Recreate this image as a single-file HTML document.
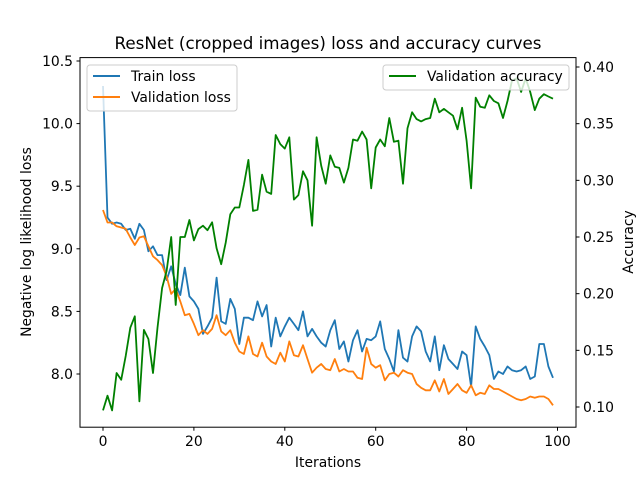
<!DOCTYPE html>
<html><head><meta charset="utf-8"><style>
body{margin:0;background:#fff}
svg{display:block;font-family:"DejaVu Sans","Liberation Sans",sans-serif}
</style></head><body>
<svg id="chart" width="640" height="480" xmlns="http://www.w3.org/2000/svg">
<rect x="0" y="0" width="640" height="480" fill="#fff"/>
<text x="328" y="49" text-anchor="middle" font-size="16.7">ResNet (cropped images) loss and accuracy curves</text>
<g id="marks"></g>
<rect x="80" y="57.6" width="496" height="369.6" fill="none" stroke="#000" stroke-width="1"/>
<g id="axes"></g>
<text x="328" y="467" text-anchor="middle" font-size="13.9">Iterations</text>
<text transform="translate(31,242) rotate(-90)" text-anchor="middle" font-size="13.9">Negative log likelihood loss</text>
<text transform="translate(633,242) rotate(-90)" text-anchor="middle" font-size="13.9">Accuracy</text>
<g>
<rect x="87" y="65" width="150" height="46" rx="3" fill="#fff" fill-opacity="0.8" stroke="#ccc"/>
<line x1="93" y1="76" x2="120" y2="76" stroke="#1f77b4" stroke-width="2"/>
<text x="131" y="81" font-size="13.9">Train loss</text>
<line x1="93" y1="97" x2="120" y2="97" stroke="#ff7f0e" stroke-width="2"/>
<text x="131" y="102" font-size="13.9">Validation loss</text>
</g>
<g>
<rect x="383" y="65" width="186" height="25" rx="3" fill="#fff" fill-opacity="0.8" stroke="#ccc"/>
<line x1="389" y1="76" x2="416" y2="76" stroke="green" stroke-width="2"/>
<text x="427" y="81" font-size="13.9">Validation accuracy</text>
</g>
</svg>
<script>
const trainLoss=[10.3,9.25,9.2,9.21,9.2,9.15,9.16,9.08,9.2,9.15,8.98,9.02,8.95,8.95,8.75,8.86,8.72,8.63,8.85,8.62,8.58,8.52,8.32,8.38,8.45,8.77,8.42,8.4,8.6,8.52,8.24,8.45,8.45,8.43,8.58,8.46,8.55,8.22,8.45,8.3,8.38,8.45,8.4,8.35,8.5,8.3,8.36,8.3,8.25,8.22,8.35,8.43,8.2,8.26,8.1,8.27,8.35,8.18,8.28,8.27,8.3,8.42,8.2,8.12,8.02,8.35,8.13,8.1,8.3,8.38,8.34,8.18,8.1,8.3,8.03,8.23,8.12,8.08,8.04,8.18,8.15,7.9,8.38,8.28,8.22,8.15,7.96,8.02,8.0,8.06,8.03,8.02,8.03,8.06,7.96,7.98,8.24,8.24,8.06,7.97];
const valLoss=[9.31,9.21,9.21,9.18,9.17,9.16,9.09,9.03,9.09,9.1,9.02,8.94,8.91,8.87,8.78,8.64,8.68,8.58,8.47,8.48,8.4,8.31,8.35,8.32,8.36,8.47,8.34,8.31,8.35,8.25,8.18,8.16,8.3,8.16,8.14,8.25,8.14,8.1,8.08,8.17,8.1,8.26,8.15,8.14,8.23,8.12,8.01,8.05,8.08,8.04,8.03,8.12,8.02,8.04,8.02,8.02,7.97,7.96,8.21,8.08,8.05,8.07,7.95,8.0,8.01,7.98,8.03,8.01,8.0,7.92,7.89,7.87,7.87,7.95,7.86,7.96,7.84,7.88,7.92,7.87,7.85,7.91,7.83,7.85,7.84,7.91,7.88,7.88,7.86,7.84,7.82,7.8,7.79,7.8,7.82,7.81,7.82,7.82,7.8,7.75];
const valAcc=[0.097,0.11,0.097,0.13,0.124,0.145,0.17,0.18,0.105,0.168,0.16,0.13,0.17,0.205,0.22,0.25,0.19,0.25,0.25,0.265,0.247,0.257,0.26,0.256,0.263,0.24,0.226,0.245,0.27,0.276,0.276,0.296,0.318,0.273,0.274,0.305,0.29,0.288,0.34,0.332,0.328,0.338,0.283,0.287,0.308,0.3,0.26,0.338,0.313,0.297,0.322,0.312,0.311,0.298,0.311,0.336,0.335,0.343,0.336,0.293,0.329,0.336,0.33,0.355,0.334,0.335,0.297,0.346,0.36,0.354,0.352,0.354,0.355,0.372,0.36,0.363,0.36,0.357,0.345,0.364,0.335,0.293,0.373,0.365,0.364,0.375,0.37,0.368,0.355,0.37,0.388,0.39,0.378,0.39,0.378,0.362,0.372,0.376,0.374,0.372];
const xTicks=[0,20,40,60,80,100];
const leftTicks=["8.0","8.5","9.0","9.5","10.0","10.5"];
const rightTicks=["0.10","0.15","0.20","0.25","0.30","0.35","0.40"];
const NS="http://www.w3.org/2000/svg";
function xs(v){return 103+v*4.545;}
function yl(v){return 374-(v-8.0)*125.2;}
function yr(v){return 407-(v-0.10)*1133.3;}
const marks=document.getElementById('marks');
const axes=document.getElementById('axes');
function line(vals,fy,color,name){
  const p=document.createElementNS(NS,'polyline');
  p.setAttribute('points',vals.map((v,i)=>xs(i).toFixed(1)+','+fy(v).toFixed(1)).join(' '));
  p.setAttribute('fill','none');p.setAttribute('stroke',color);p.setAttribute('stroke-width','1.8');
  p.setAttribute('stroke-linejoin','round');
  
  
  marks.appendChild(p);
}
line(trainLoss,yl,'#1f77b4','train-loss-line');
line(valLoss,yl,'#ff7f0e','validation-loss-line');
line(valAcc,yr,'green','validation-accuracy-line');
function el(tag,attrs,text){const e=document.createElementNS(NS,tag);for(const k in attrs)e.setAttribute(k,attrs[k]);if(text!==undefined)e.textContent=text;axes.appendChild(e);return e;}
xTicks.forEach(t=>{
  const x=xs(t);
  const l=el('line',{x1:x,y1:427.2,x2:x,y2:430.7,stroke:'#000'});
  
  
  const tx=el('text',{x:x,y:446,'text-anchor':'middle','font-size':'13.9'},String(t));
  
  
});
leftTicks.forEach(t=>{
  const y=yl(parseFloat(t));
  const l=el('line',{x1:76.5,y1:y,x2:80,y2:y,stroke:'#000'});
  
  
  const tx=el('text',{x:73,y:y+5,'text-anchor':'end','font-size':'13.9'},t);
  
  
});
rightTicks.forEach(t=>{
  const y=yr(parseFloat(t));
  const l=el('line',{x1:576,y1:y,x2:579.5,y2:y,stroke:'#000'});
  
  
  const tx=el('text',{x:583,y:y+5,'font-size':'13.9'},t);
  
  
});
</script>
</body></html>
